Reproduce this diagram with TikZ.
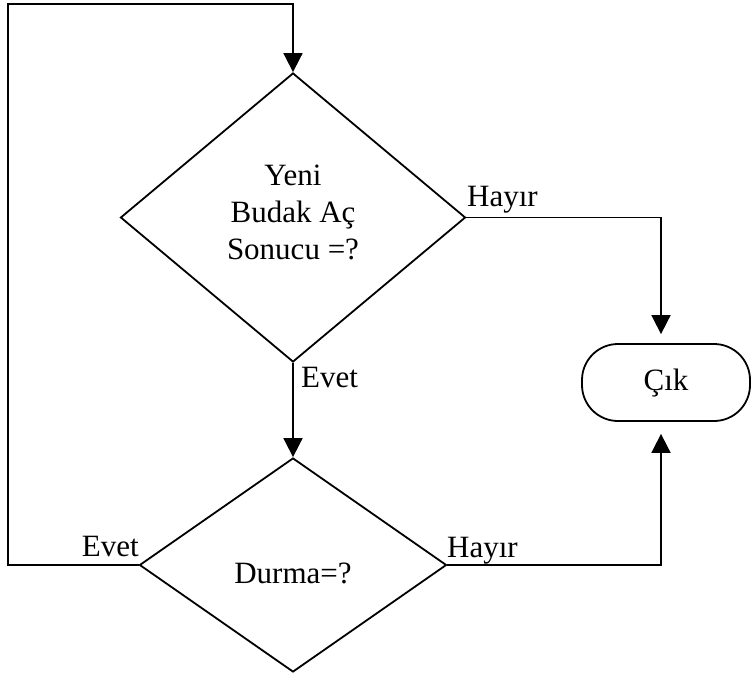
\documentclass[tikz,border=0pt]{standalone}
\usepackage{fontspec}
\setmainfont{Liberation Serif}
\usetikzlibrary{shapes.geometric,arrows.meta}

\tikzset{
  flow/.style={line width=1.8pt, line join=miter},
  arr/.style={flow, -{Triangle[length=19pt,width=19pt]}},
  decision/.style={draw, flow, diamond, inner sep=0pt, aspect=1.2},
  terminal/.style={draw, flow, rectangle, rounded corners=36pt,
    minimum width=168pt, minimum height=77pt, inner sep=0pt},
  txt/.style={font=\fontsize{31}{37}\selectfont, inner sep=0pt, align=center},
  lbl/.style={font=\fontsize{31}{37}\selectfont, inner sep=0pt}
}

\begin{document}
\begin{tikzpicture}[x=1pt, y=-1pt]
  \useasboundingbox (0,0) rectangle (751,676);

  % decision shapes and the exit terminal
  \node[decision, minimum width=345pt, minimum height=289pt] (q1) at (293,217.5) {};
  \node[txt] (q1t) at (293,212) {Yeni\\Budak Aç\\Sonucu =?};
  \node[decision, minimum width=307pt, minimum height=214pt] (q2) at (293,565) {};
  \node[txt] (q2t) at (293,573) {Durma=?};
  \node[terminal] (exit) at (666,382.5) {};
  \node[txt] (exitt) at (666,383) {Çık};

  % loop back to the first decision
  \coordinate (lt) at (8,4);
  \draw[arr] (q2.west) -| (lt) -| (q1.north);

  % yes branch of the first decision
  \draw[arr] (q1.south) -- (q2.north);

  % no branches into the exit
  \draw[arr, shorten >=9pt] (q1.east) -| ([xshift=-5pt]exit.north);
  \draw[arr, shorten >=12pt] (q2.east) -| ([xshift=-5pt]exit.south);

  % branch labels
  \node[lbl, anchor=base west] (h1) at (467,207) {Hayır};
  \node[lbl, anchor=base west] (e1) at (301,387) {Evet};
  \node[lbl, anchor=base east] (e2) at (139,556) {Evet};
  \node[lbl, anchor=base west] (h2) at (447,557) {Hayır};
\end{tikzpicture}
\end{document}
